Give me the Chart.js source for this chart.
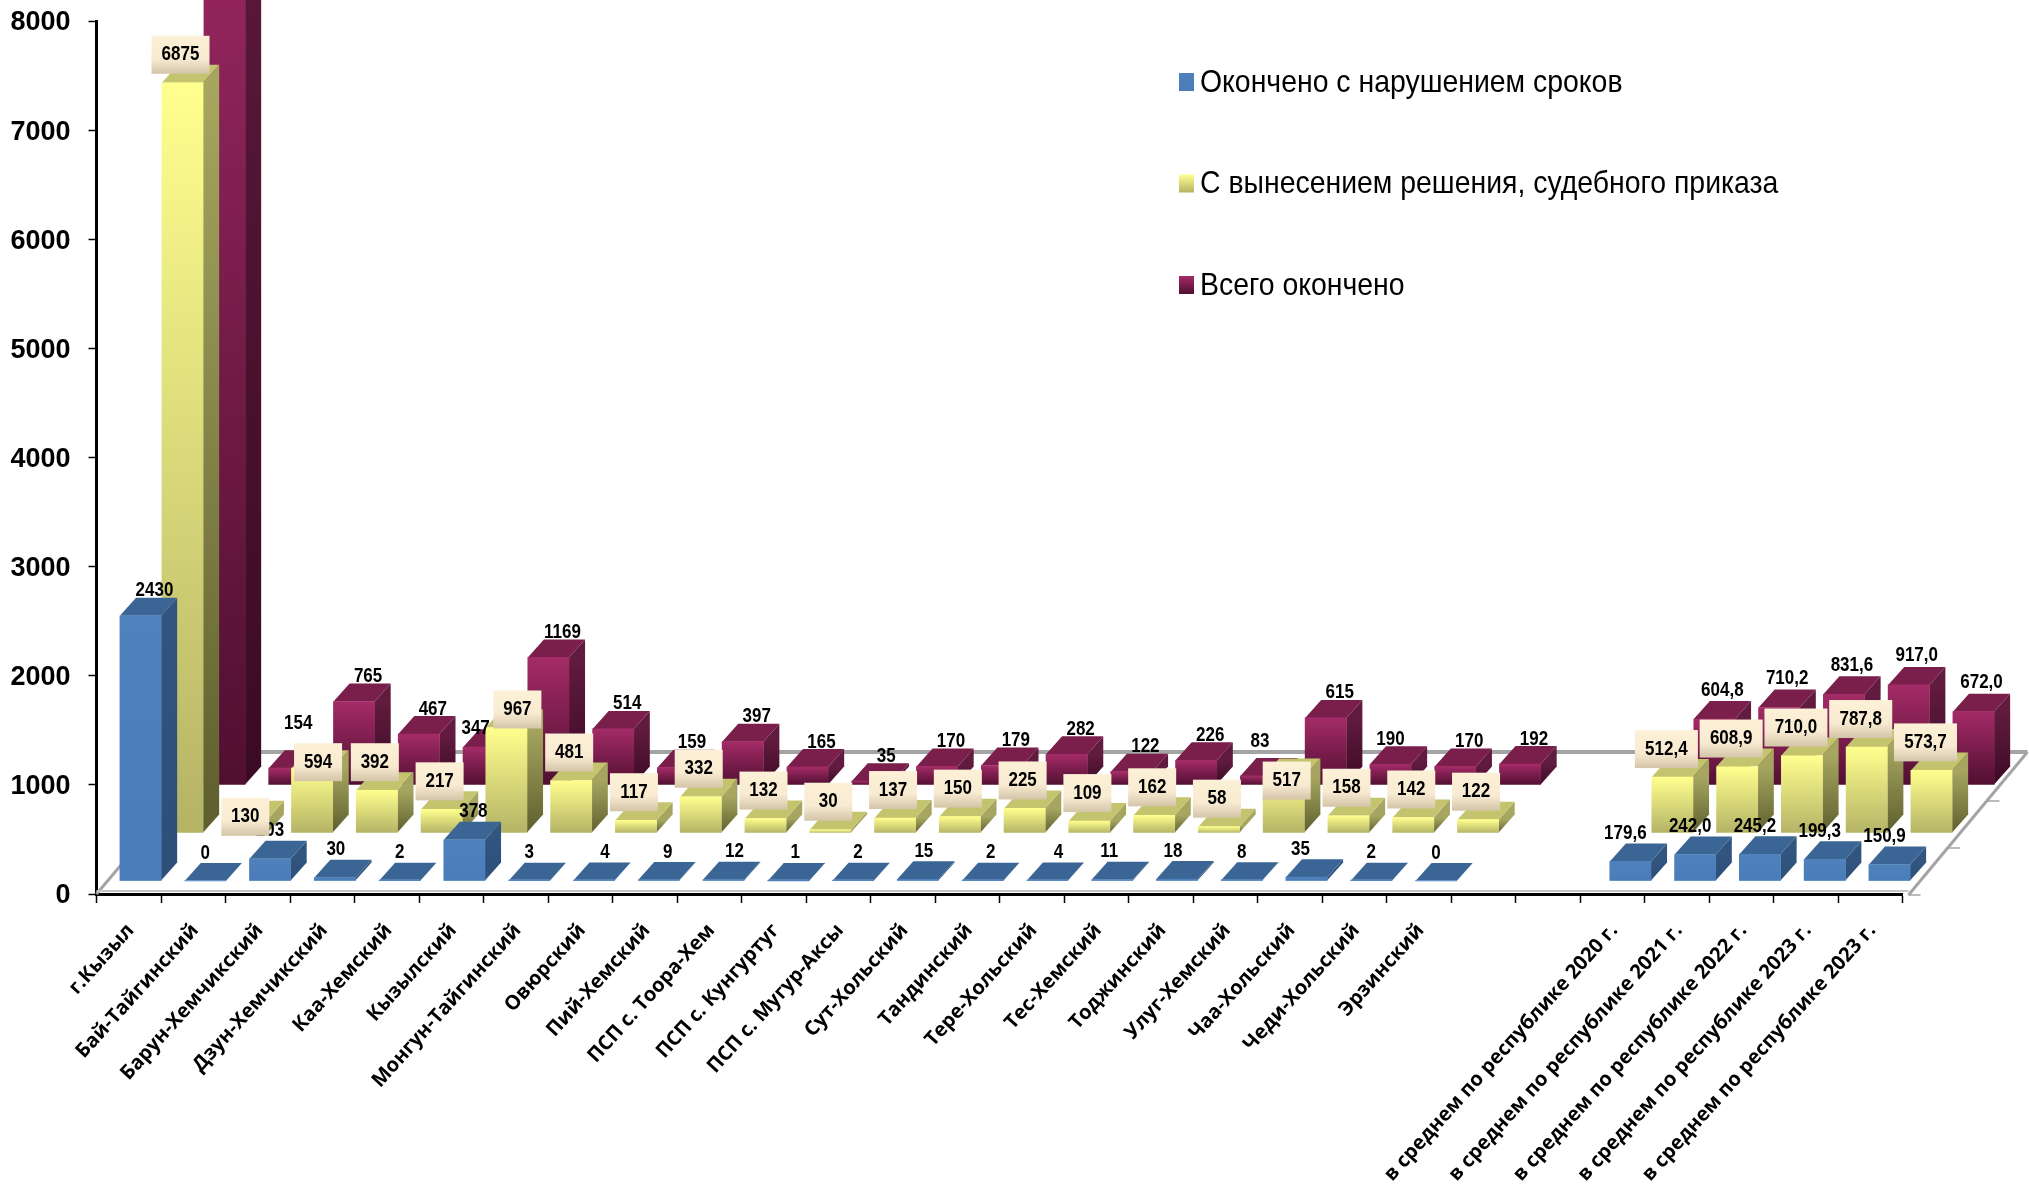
<!DOCTYPE html>
<html lang="ru">
<head>
<meta charset="utf-8">
<title>Окончено дел</title>
<script src="https://cdn.jsdelivr.net/npm/chart.js@4"></script>
<style>
  html, body { margin: 0; padding: 0; background: #fff; overflow: hidden; }
  canvas { display: block; }
</style>
</head>
<body>
<canvas id="chart" width="2029" height="1186"></canvas>
<script>
const categories = [
  'г.Кызыл', 'Бай-Тайгинский', 'Барун-Хемчикский', 'Дзун-Хемчикский', 'Каа-Хемский',
  'Кызылский', 'Монгун-Тайгинский', 'Овюрский', 'Пий-Хемский', 'ПСП с. Тоора-Хем',
  'ПСП с. Кунгуртуг', 'ПСП с. Мугур-Аксы', 'Сут-Хольский', 'Тандинский', 'Тере-Хольский',
  'Тес-Хемский', 'Тоджинский', 'Улуг-Хемский', 'Чаа-Хольский', 'Чеди-Хольский', 'Эрзинский',
  '', '',
  'в среднем по республике 2020 г.', 'в среднем по республике 2021 г.',
  'в среднем по республике 2022 г.', 'в среднем по республике 2023 г.',
  'в среднем по республике 2023 г.'
];

const lateValues = [2430, 0, 203, 30, 2, 378, 3, 4, 9, 12, 1, 2, 15, 2, 4, 11, 18, 8, 35, 2, 0,
  null, null, 179.6, 242.0, 245.2, 199.3, 150.9];
const rulingValues = [6875, 130, 594, 392, 217, 967, 481, 117, 332, 132, 30, 137, 150, 225, 109, 162, 58, 517, 158, 142, 122,
  null, null, 512.4, 608.9, 710.0, 787.8, 573.7];
// first value runs off the top of the picture, its label is not visible: estimate
const totalValues = [9305, 154, 765, 467, 347, 1169, 514, 159, 397, 165, 35, 170, 179, 282, 122, 226, 83, 615, 190, 170, 192,
  null, null, 604.8, 710.2, 831.6, 917.0, 672.0];

const yTicks = [0, 1000, 2000, 3000, 4000, 5000, 6000, 7000, 8000];

const FIRST_AVG = 23;      // index of first "в среднем" category
const SANS = '"Liberation Sans", sans-serif';
const LABEL_FONT = `bold 20px ${SANS}`;
const LABEL_SQUEEZE = 0.85;   // the picture uses a narrower face than we have
const LEGEND_SQUEEZE = 0.888;

// pseudo 3D: each series sits further back on the floor
const DEPTH_X = 16;
const DEPTH_Y = 18;
const STRETCH = 1.0043;    // bars spread a little wider than the tick marks
const SHIFT = [
  { x: 11.2, y: -13 },     // front row
  { x: 53.2, y: -61 },
  { x: 95.2, y: -109 },    // back row
];

const LOOK = [
  { front: ['#4F81BD', '#4A7CB9'], side: ['#31557F', '#2D4F79'], top: '#3A6594' },
  { front: ['#FFFF8E', '#B4B366'], side: ['#A6A660', '#5E5E2E'], top: '#C4C46E' },
  { front: ['#A42B67', '#500F31'], side: ['#611B3F', '#3B0A24'], top: '#7A1F4C' },
];

// label nudges where the labels were moved by hand in the picture: index -> [dx, dy]
const LABEL_NUDGE = [
  { 0: [14, -25], 3: [1, -28], 5: [9, -28], 7: [11, -28], 8: [9, -28], 9: [11, -28],
    10: [7, -28], 11: [5, -28], 12: [6, -28], 13: [8, -28], 14: [11, -28], 15: [-3, -28], 16: [-4, -28], 18: [-6, -28] },
  { 1: [-2, -2], 2: [6, -6], 5: [11, -18], 17: [3, 4] },
  { 1: [9, -45], 4: [-8, -19], 16: [-1, -34], 18: [0, -25] },
];
const LABEL_DEFAULT = [[0, -28], [-2, -28], [14, -25]];
const AVG_LABEL = [[-5, -28], [-6, -28], [8, -29]];

function frontFill(series) {
  return ctx => {
    const look = LOOK[series].front;
    const v = ctx.parsed && ctx.parsed.y;
    if (v == null || isNaN(v) || !v) return look[0];
    const y = ctx.chart.scales.y;
    const y1 = y.getPixelForValue(v);
    const y2 = y.getPixelForValue(0);
    if (!isFinite(y1) || !isFinite(y2)) return look[0];
    const g = ctx.chart.ctx.createLinearGradient(0, y1, 0, y2);
    g.addColorStop(0, look[0]);
    g.addColorStop(1, look[1]);
    return g;
  };
}

function place(ctx, series) {
  const s = SHIFT[series];
  ctx.transform(STRETCH, 0, 0, 1, s.x, s.y);
}

function face(ctx, pts, fill) {
  ctx.fillStyle = fill;
  ctx.beginPath();
  pts.forEach((p, i) => (i ? ctx.lineTo(p[0], p[1]) : ctx.moveTo(p[0], p[1])));
  ctx.closePath();
  ctx.fill();
}

/* ── bars get a top and a side, drawn from the library's own bar elements ── */
const depthFaces = {
  id: 'depthFaces',
  beforeDatasetDraw(chart, args) {
    const ctx = chart.ctx;
    const series = args.index;
    const look = LOOK[series];
    const values = chart.data.datasets[series].data;
    ctx.save();
    place(ctx, series);
    chart.getDatasetMeta(series).data.forEach((bar, i) => {
      if (values[i] == null) return;
      const { x, y, base, width } = bar.getProps(['x', 'y', 'base', 'width'], true);
      const r = x + width / 2;
      const l = x - width / 2;
      const g = ctx.createLinearGradient(0, y, 0, base + 1);
      g.addColorStop(0, look.side[0]);
      g.addColorStop(1, look.side[1]);
      face(ctx, [[r, y], [r + DEPTH_X, y - DEPTH_Y], [r + DEPTH_X, base - DEPTH_Y], [r, base]], g);
      face(ctx, [[l, y], [l + DEPTH_X, y - DEPTH_Y], [r + DEPTH_X, y - DEPTH_Y], [r, y]], look.top);
      if (series === 0) {
        ctx.fillStyle = '#6F9FD6';
        ctx.fillRect(l, base - 1, width, 1);
      }
    });
  },
  afterDatasetDraw(chart) {
    chart.ctx.restore();
  },
};

/* ── floor outline behind the bars ── */
const floor = {
  id: 'floor',
  beforeDatasetsDraw(chart) {
    const ctx = chart.ctx;
    const { left, right } = chart.chartArea;
    const y0 = chart.scales.y.getPixelForValue(0);
    const backY = y0 - 142;
    const backShift = 120;
    ctx.save();
    ctx.strokeStyle = '#A4A4A4';
    ctx.lineWidth = 4;
    ctx.beginPath();
    ctx.moveTo(left + backShift, backY);
    ctx.lineTo(right + backShift + 5, backY);
    ctx.stroke();
    ctx.lineWidth = 3;
    ctx.beginPath();
    ctx.moveTo(left, y0);
    ctx.lineTo(left + backShift, backY);
    ctx.moveTo(right + backShift + 5, backY);
    ctx.lineTo(right + 6, y0 + 1);
    ctx.stroke();
    ctx.lineWidth = 1.5;
    [0, 47, 94].forEach(d => {
      const x = right + 6 + d * 0.84;
      ctx.beginPath();
      ctx.moveTo(x, y0 + 1 - d);
      ctx.lineTo(x + 12, y0 + 1 - d);
      ctx.stroke();
    });
    ctx.strokeStyle = '#C4C4C4';
    ctx.lineWidth = 2;
    ctx.beginPath();
    ctx.moveTo(left, y0 - 3);
    ctx.lineTo(right + 6, y0 - 3);
    ctx.stroke();
    ctx.restore();
  },
};

/* ── value labels ── */
function labelText(value, index) {
  return index >= FIRST_AVG ? value.toFixed(1).replace('.', ',') : String(value);
}

function labelBox(ctx, cx, cy, w) {
  const h = 38;
  const g = ctx.createLinearGradient(0, cy - h / 2, 0, cy + h / 2);
  g.addColorStop(0, '#FCF0D6');
  g.addColorStop(0.6, '#F8EBD2');
  g.addColorStop(1, '#D4C5A8');
  ctx.fillStyle = g;
  ctx.fillRect(cx - w / 2, cy - h / 2, w, h);
}

const valueLabels = {
  id: 'valueLabels',
  afterDatasetsDraw(chart) {
    const ctx = chart.ctx;
    ctx.save();
    ctx.font = LABEL_FONT;
    ctx.textAlign = 'center';
    ctx.textBaseline = 'middle';
    [2, 0, 1].forEach(series => {
      chart.getDatasetMeta(series).data.forEach((bar, i) => {
        const value = chart.data.datasets[series].data[i];
        if (value == null) return;
        const n = (i >= FIRST_AVG ? AVG_LABEL[series] : LABEL_NUDGE[series][i] || LABEL_DEFAULT[series]);
        const cx = bar.x * STRETCH + SHIFT[series].x + n[0];
        const cy = bar.y + SHIFT[series].y + n[1];
        const text = labelText(value, i);
        if (series === 1) labelBox(ctx, cx, cy, i >= FIRST_AVG ? 63 : text.length > 3 ? 58 : 48);
        ctx.fillStyle = '#000';
        ctx.fillText(text, cx, cy, ctx.measureText(text).width * LABEL_SQUEEZE);
      });
    });
    ctx.restore();
  },
};

/* ── legend placed inside the plot like in the picture ── */
const floatingLegend = {
  id: 'floatingLegend',
  afterDraw(chart) {
    const ctx = chart.ctx;
    ctx.save();
    ctx.font = `32px ${SANS}`;
    ctx.textBaseline = 'middle';
    ctx.textAlign = 'left';
    chart.data.datasets.forEach((ds, i) => {
      const y = 83 + i * 101.5;
      const g = ctx.createLinearGradient(0, y - 10, 0, y + 8);
      g.addColorStop(0, LOOK[i].front[0]);
      g.addColorStop(1, LOOK[i].front[1]);
      ctx.fillStyle = g;
      ctx.fillRect(1179, y - 10, 15, 18);
      ctx.fillStyle = '#000';
      ctx.fillText(ds.label, 1200, y, ctx.measureText(ds.label).width * LEGEND_SQUEEZE);
    });
    ctx.restore();
  },
};

function makeSeries(label, data, series) {
  return {
    label,
    data,
    backgroundColor: frontFill(series),
    borderWidth: 0,
    barThickness: 41,
    grouped: false,
    clip: false,
  };
}

new Chart(document.getElementById('chart').getContext('2d'), {
  type: 'bar',
  data: {
    labels: categories,
    datasets: [
      makeSeries('Окончено с нарушением сроков', lateValues, 0),
      makeSeries('С вынесением решения, судебного приказа', rulingValues, 1),
      makeSeries('Всего окончено', totalValues, 2),
    ],
  },
  plugins: [floor, depthFaces, valueLabels, floatingLegend],
  options: {
    responsive: false,
    animation: false,
    events: [],
    layout: { padding: { top: 21, right: 126.5, bottom: 0, left: 0 } },
    plugins: { legend: { display: false }, tooltip: { enabled: false } },
    scales: {
      x: {
        grid: { drawOnChartArea: false, color: '#000', tickLength: 9, tickWidth: 1.5, offset: true },
        border: { color: '#000', width: 3 },
        afterFit(scale) { scale.height = 292; scale.paddingLeft = 0; scale.paddingRight = 0; },
        ticks: {
          autoSkip: false,
          minRotation: 48,
          maxRotation: 48,
          padding: 16,
          labelOffset: 2,
          color: '#000',
          font: { family: '"Open Sans", sans-serif', weight: 'bold', size: 20 },
        },
      },
      y: {
        min: 0,
        max: 8000,
        afterBuildTicks(scale) { scale.ticks = yTicks.map(value => ({ value })); },
        afterFit(scale) { scale.width = 96.5; scale.paddingTop = 0; scale.paddingBottom = 0; },
        grid: { drawOnChartArea: false, color: '#000', tickLength: 8, tickWidth: 1.5 },
        border: { color: '#000', width: 3 },
        ticks: {
          padding: 18,
          labelOffset: 2,
          color: '#000',
          font: { family: SANS, weight: 'bold', size: 27 },
          callback: value => String(value),
        },
      },
    },
  },
});
</script>
</body>
</html>
